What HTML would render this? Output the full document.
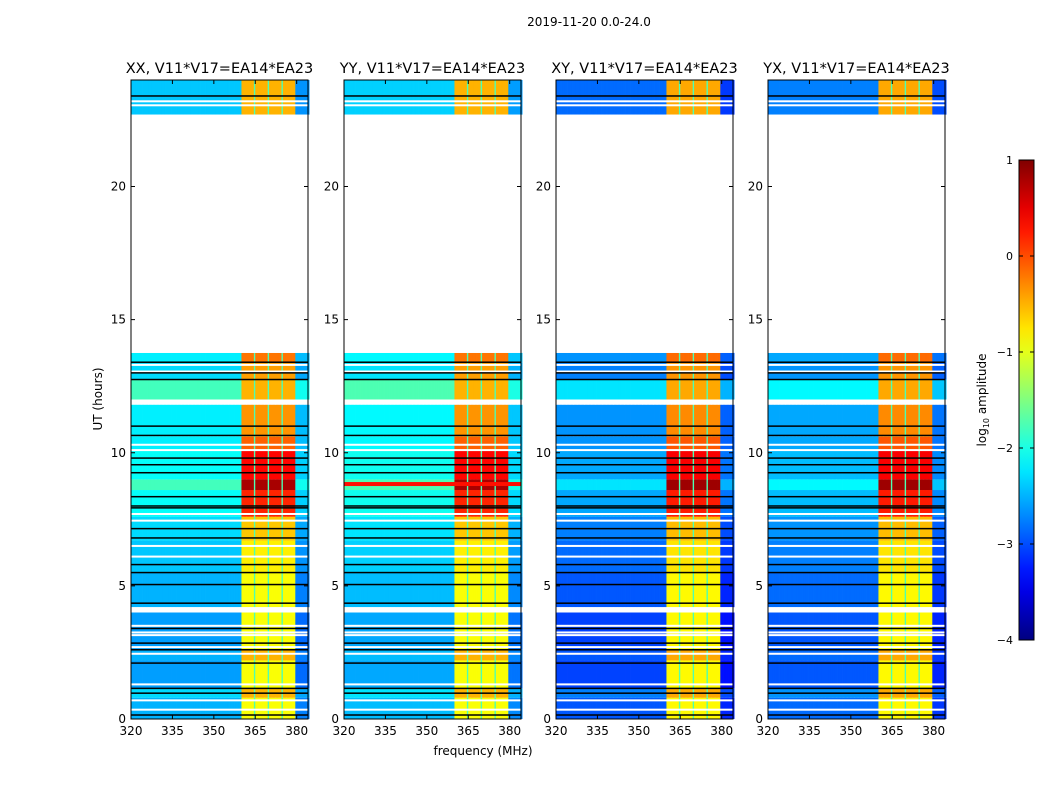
<!DOCTYPE html>
<html><head><meta charset="utf-8">
<style>
body{margin:0;background:#fff;font-family:"DejaVu Sans","Liberation Sans",sans-serif;}
#root{position:relative;width:1050px;height:800px;overflow:hidden;background:#fff;}
svg text{font-family:"DejaVu Sans","Liberation Sans",sans-serif;}
</style></head>
<body>
<div id="root">
<svg id="fig" width="1050" height="800" xmlns="http://www.w3.org/2000/svg"></svg>
</div>
<script>
// ---- data ----
const panelTitles = ["XX, V11*V17=EA14*EA23","YY, V11*V17=EA14*EA23","XY, V11*V17=EA14*EA23","YX, V11*V17=EA14*EA23"];
const panelBgOffset = [0, 0.05, -0.45, -0.35];
const panelBandOffset = [0, 0, 0.05, 0.05];
// time segments (hours) with log10 amplitude of background and of the 360-380 MHz band
const segStart = [0.0, 0.8, 1.15, 2.2, 2.6, 4.0, 4.2, 5.5, 6.7, 7.6, 8.6, 9.0, 10.1, 10.6, 11.8, 12.0, 12.75, 13.4, 22.7];
const segEnd   = [0.8, 1.15, 2.2, 2.6, 4.0, 4.2, 5.5, 6.7, 7.6, 8.6, 9.0, 10.1, 10.6, 11.8, 12.0, 12.75, 13.4, 13.75, 24.0];
const segBg    = [-2.5, -2.3, -2.6, -2.5, -2.6, null, -2.5, -2.4, -2.3, -2.1, -1.8, -2.1, -2.2, -2.2, null, -1.8, -2.3, -2.2, -2.4];
const segBand  = [-0.9, -0.5, -0.9, -0.5, -0.9, null, -0.9, -0.8, -0.6, 0.2, 0.8, 0.35, -0.1, -0.35, null, -0.5, -0.4, -0.2, -0.5];
// sub-band layout (MHz)
const subStart = [360.2, 365.1, 370.0, 374.9];
const subEnd   = [364.6, 369.5, 374.3, 379.3];
const dipLevel = -1.75;
// flagged (white) and dropped (black) rows
const whiteRows = [23.05, 23.2, 13.3, 13.05, 10.3, 10.1, 7.7, 7.45, 6.5, 6.1, 3.5, 3.25, 3.15, 2.7, 2.45, 1.3, 0.7, 0.35];
const whiteBlocks = [[13.75, 22.7], [11.85, 11.95], [4.0, 4.2]];
const blackRows = [13.4, 13.0, 12.75, 11.0, 10.65, 9.8, 9.55, 9.25, 8.35, 8.0, 7.93, 7.15, 6.8, 5.8, 5.5, 5.05, 4.35, 3.4, 2.85, 2.6, 2.1, 1.15, 0.97, 0.15, 23.4];
const xTicks = [320, 335, 350, 365, 380];
const yTicks = [0, 5, 10, 15, 20];
const cbTicks = [1, 0, -1, -2, -3, -4];
const cbLabels = ["1","0","\u22121","\u22122","\u22123","\u22124"];

// ---- layout ----
const panelLeft = [131, 344, 556, 768];
const pw = 177, plotTop = 80, plotBot = 719;
const fMin = 320, fMax = 384.1, tMin = 0, tMax = 24;
const vMin = -4, vMax = 1;
const NS = "http://www.w3.org/2000/svg";
const svgEl = document.getElementById('fig');
function mk(tag, attrs, parent){ const e = document.createElementNS(NS, tag); for (const k in attrs) e.setAttribute(k, attrs[k]); (parent||svgEl).appendChild(e); return e; }
function jet(v){
  let t = (v - vMin) / (vMax - vMin); t = Math.max(0, Math.min(1, t));
  const r = Math.max(0, Math.min(1, 1.5 - Math.abs(4*t - 3)));
  const g = Math.max(0, Math.min(1, 1.5 - Math.abs(4*t - 2)));
  const b = Math.max(0, Math.min(1, 1.5 - Math.abs(4*t - 1)));
  return `rgb(${Math.round(r*255)},${Math.round(g*255)},${Math.round(b*255)})`;
}
const yS = t => plotBot - (t - tMin) / (tMax - tMin) * (plotBot - plotTop);
function channelValue(f, bg, band){
  for (let i = 0; i < subStart.length; i++) if (f >= subStart[i] && f <= subEnd[i]) return band;
  if (f > subStart[0] && f < subEnd[subEnd.length-1]) return Math.max(bg, dipLevel);
  if (f >= subEnd[subEnd.length-1]) return bg - 0.25;
  return bg;
}

let st = mk('text', {x: 589, y: 26, 'font-size': 12, 'text-anchor': 'middle', fill: '#000'});
st.textContent = "2019-11-20 0.0-24.0";



const step = 0.5;
panelLeft.forEach((L, p) => {
  const xS = f => L + (f - fMin) / (fMax - fMin) * pw;
  const g = mk('g', {});
  
  
  for (let s = 0; s < segStart.length; s++) {
    if (segBg[s] === null) continue;
    const y1 = yS(segEnd[s]), y2 = yS(segStart[s]);
    for (let f = fMin; f < fMax; f += step) {
      const v = channelValue(f + step/2, segBg[s] + panelBgOffset[p], segBand[s] + panelBandOffset[p]);
      const r = mk('rect', {x: xS(f).toFixed(2), y: y1.toFixed(2), width: (xS(f+step)-xS(f)+0.4).toFixed(2), height: (y2-y1).toFixed(2), fill: jet(v)}, g);
      
      
    }
  }
  if (p === 1) {
    const r = mk('rect', {x: L, y: yS(8.9), width: pw, height: yS(8.75)-yS(8.9), fill: jet(0.3)}, g);
    
    
  }
  whiteBlocks.forEach(b => {
    const r = mk('rect', {x: L, y: yS(b[1]), width: pw, height: yS(b[0]) - yS(b[1]), fill: '#fff'}, g);
    
    
  });
  whiteRows.forEach(t => {
    const r = mk('rect', {x: L, y: yS(t) - 1, width: pw, height: 2, fill: '#fff'}, g);
    
    
  });
  blackRows.forEach(t => {
    const r = mk('rect', {x: L, y: yS(t) - 0.75, width: pw, height: 1.5, fill: '#000'}, g);
    
    
  });
  const fr = mk('rect', {x: L, y: plotTop, width: pw, height: plotBot - plotTop, fill: 'none', stroke: '#000', 'stroke-width': 1});
  
  
  const tt = mk('text', {x: L + pw/2, y: 73, 'font-size': 14.5, 'text-anchor': 'middle', fill: '#000'});
  tt.textContent = panelTitles[p];
  
  
  xTicks.forEach(v => {
    const x = xS(v);
    mk('line', {x1: x, x2: x, y1: plotBot, y2: plotBot - 4, stroke: '#000'});
    mk('line', {x1: x, x2: x, y1: plotTop, y2: plotTop + 4, stroke: '#000'});
    const t = mk('text', {x: x, y: plotBot + 16, 'font-size': 12, 'text-anchor': 'middle', fill: '#000'});
    t.textContent = v;
    
    
  });
  yTicks.forEach(v => {
    const y = yS(v);
    mk('line', {x1: L, x2: L + 4, y1: y, y2: y, stroke: '#000'});
    mk('line', {x1: L + pw, x2: L + pw - 4, y1: y, y2: y, stroke: '#000'});
    const t = mk('text', {x: L - 5, y: y + 4, 'font-size': 12, 'text-anchor': 'end', fill: '#000'});
    t.textContent = v;
    
    
  });
});
let yl = mk('text', {x: 0, y: 0, 'font-size': 12, 'text-anchor': 'middle', fill: '#000', transform: 'translate(102,399) rotate(-90)'});
yl.textContent = "UT (hours)";


let xl = mk('text', {x: 483, y: 755, 'font-size': 12, 'text-anchor': 'middle', fill: '#000'});
xl.textContent = "frequency (MHz)";



// colorbar
const cbX = 1019, cbW = 15, cbTop = 160, cbBot = 640;
const cbY = v => cbBot - (v - vMin) / (vMax - vMin) * (cbBot - cbTop);
const defs = mk('defs', {});
const grad = mk('linearGradient', {id: 'jetg', x1: 0, y1: 1, x2: 0, y2: 0}, defs);
for (let i = 0; i <= 20; i++) mk('stop', {offset: i/20, 'stop-color': jet(vMin + i/20*(vMax - vMin))}, grad);
const cb = mk('rect', {x: cbX, y: cbTop, width: cbW, height: cbBot - cbTop, fill: 'url(#jetg)', stroke: '#000', 'stroke-width': 1});


cbTicks.forEach((v, i) => {
  const y = cbY(v);
  mk('line', {x1: cbX, x2: cbX + 4, y1: y, y2: y, stroke: '#000'});
  mk('line', {x1: cbX + cbW, x2: cbX + cbW - 4, y1: y, y2: y, stroke: '#000'});
  const t = mk('text', {x: 1013, y: y + 4, 'font-size': 11, 'text-anchor': 'end', fill: '#000'});
  t.textContent = cbLabels[i];
  
  
});
const cl = mk('text', {x: 0, y: 0, 'font-size': 12, 'text-anchor': 'middle', fill: '#000', transform: 'translate(986,400) rotate(-90)'});
cl.innerHTML = 'log<tspan font-size="8" dy="3">10</tspan><tspan dy="-3"> amplitude</tspan>';


</script>
</body></html>
